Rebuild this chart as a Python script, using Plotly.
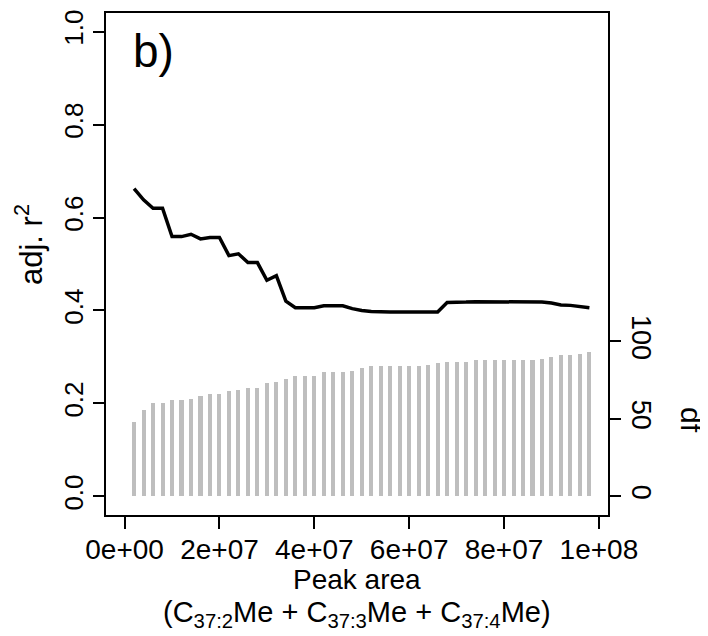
import plotly.graph_objects as go

# ---- data ----
peak_area = [2e6, 4e6, 6e6, 8e6, 10e6, 12e6, 14e6, 16e6, 18e6, 20e6,
             22e6, 24e6, 26e6, 28e6, 30e6, 32e6, 34e6, 36e6, 38e6, 40e6,
             42e6, 44e6, 46e6, 48e6, 50e6, 52e6, 54e6, 56e6, 58e6, 60e6,
             62e6, 64e6, 66e6, 68e6, 70e6, 72e6, 74e6, 76e6, 78e6, 80e6,
             82e6, 84e6, 86e6, 88e6, 90e6, 92e6, 94e6, 96e6, 98e6]

adj_r2 = [0.662, 0.638, 0.620, 0.620, 0.559, 0.559, 0.564, 0.554, 0.557, 0.557,
          0.518, 0.522, 0.503, 0.503, 0.465, 0.475, 0.420, 0.406, 0.406, 0.406,
          0.410, 0.410, 0.410, 0.404, 0.400, 0.398, 0.397, 0.397, 0.397, 0.397,
          0.397, 0.397, 0.397, 0.417, 0.417, 0.418, 0.419, 0.419, 0.419, 0.419,
          0.419, 0.419, 0.419, 0.418, 0.416, 0.412, 0.411, 0.409, 0.406]

df = [48, 56, 60, 60, 62, 62, 63, 65, 66, 66,
      68, 69, 70, 70, 73, 74, 76, 78, 78, 78,
      80, 80, 80, 81, 83, 84, 84, 84, 84, 84,
      84, 85, 86, 87, 87, 87, 88, 88, 88, 88,
      88, 88, 88, 89, 90, 91, 91, 92, 93]

x_tickvals = [0, 2e7, 4e7, 6e7, 8e7, 1e8]
x_ticktext = ["0e+00", "2e+07", "4e+07", "6e+07", "8e+07", "1e+08"]
y_tickvals = [0.0, 0.2, 0.4, 0.6, 0.8, 1.0]
y_ticktext = ["0.0", "0.2", "0.4", "0.6", "0.8", "1.0"]
y2_tickvals = [0, 50, 100]
y2_ticktext = ["0", "50", "100"]

FONT = "Liberation Sans, Arial, Helvetica, sans-serif"

# page body adds an 8px offset, so the figure is 8px smaller and shifted
fig = go.Figure()
fig.add_trace(go.Bar(x=peak_area, y=df, yaxis="y2", width=0.85e6,
                     marker=dict(color="#BEBEBE", line=dict(width=0)),
                     showlegend=False, hoverinfo="skip"))
fig.add_trace(go.Scatter(x=peak_area, y=adj_r2, mode="lines",
                         line=dict(color="black", width=3.5),
                         showlegend=False, hoverinfo="skip"))

fig.update_layout(
    width=700, height=628, autosize=False,
    margin=dict(l=98, r=100, t=5, b=121, pad=0, autoexpand=False),
    paper_bgcolor="white", plot_bgcolor="white",
    font=dict(family=FONT, color="black"),
    xaxis=dict(range=[-3.92e6, 101.92e6], tickvals=x_tickvals, ticktext=x_ticktext,
               ticks="outside", ticklen=12, tickwidth=1.5, tickcolor="black",
               showline=True, linecolor="black", linewidth=1.5, mirror=True,
               showgrid=False, zeroline=False, tickfont=dict(size=28),
               ticklabelstandoff=-3, automargin=False),
    yaxis=dict(range=[-0.04, 1.04], tickvals=y_tickvals, ticktext=y_ticktext,
               ticks="outside", ticklen=11, tickwidth=1.5, tickcolor="black",
               showline=True, linecolor="black", linewidth=1.5, mirror=True,
               showgrid=False, zeroline=False, tickfont=dict(size=26),
               tickangle=-90, automargin=False),
    yaxis2=dict(range=[-12, 312], overlaying="y", side="right",
                tickvals=y2_tickvals, ticktext=y2_ticktext,
                ticks="outside", ticklen=12, tickwidth=1.5, tickcolor="black",
                showline=False, showgrid=False, zeroline=False,
                tickfont=dict(size=27), tickangle=90, automargin=False),
    bargap=0,
)

ann = [
    dict(text="b)", x=(153 - 106) / 502, y=(515 - 51) / 502, font=dict(size=46)),
    dict(text="adj. r<sup>2</sup>", x=(29 - 106) / 502, y=(515 - 245) / 502,
         textangle=-90, font=dict(size=31)),
    dict(text="df", x=(692 - 106) / 502, y=(515 - 420) / 502,
         textangle=90, font=dict(size=30)),
    dict(text="Peak area", x=0.5, y=(515 - 579) / 502, font=dict(size=28)),
    dict(text="(C<sub>37:2</sub>Me + C<sub>37:3</sub>Me + C<sub>37:4</sub>Me)",
         x=0.5, y=(515 - 614) / 502, font=dict(size=29)),
]
for a in ann:
    fig.add_annotation(xref="paper", yref="paper", showarrow=False,
                       xanchor="center", yanchor="middle", **a)

fig.write_html("out.html")
